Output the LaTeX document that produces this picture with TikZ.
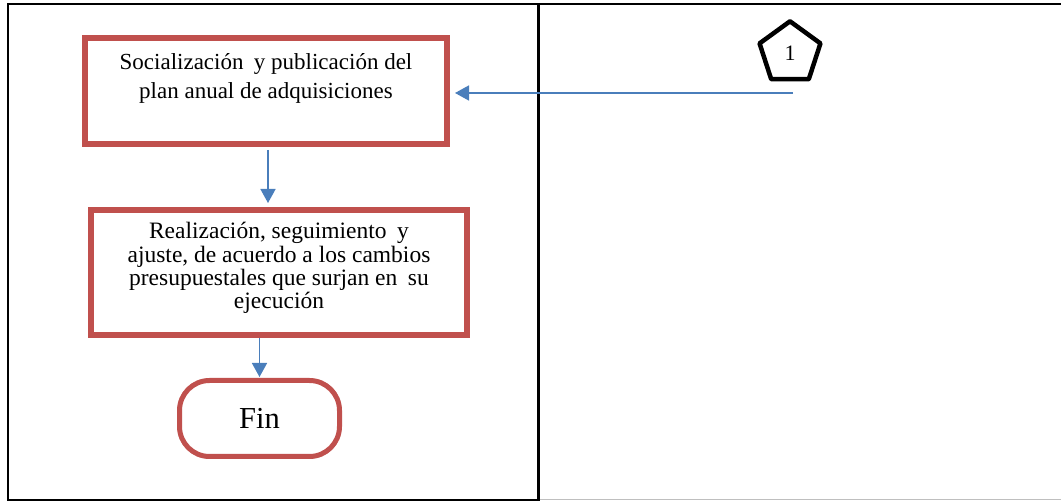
\documentclass[tikz,border=0pt]{standalone}
\usepackage{fontspec}
\setmainfont{Liberation Serif}
\usetikzlibrary{arrows.meta,shapes.geometric}
\definecolor{boxred}{RGB}{192,80,77}
\definecolor{arrblue}{RGB}{74,126,187}
\begin{document}
\begin{tikzpicture}[x=1pt,y=-1pt,
  stepbox/.style={draw=boxred,line width=6pt,inner sep=0pt,fill=white},
  endbox/.style={draw=boxred,line width=5pt,rounded corners=30pt,minimum width=160pt,minimum height=76pt,inner sep=0pt,font=\fontsize{30.5}{34}\selectfont},
  conn/.style={draw=black,line width=4.5pt,line join=round,regular polygon,regular polygon sides=5,minimum size=64pt,inner sep=0pt,font=\fontsize{22}{24}\selectfont},
  arr/.style={draw=arrblue,line width=1.6pt,-{Triangle[length=14pt,width=15pt]}},
  frame/.style={draw=black,line width=2pt}]
\useasboundingbox (0,0) rectangle (1061,502);
% frame
\draw[frame] (1061,4.5) -- (8,4.5) -- (8,500) -- (538,500);
\draw[black!25,line width=1pt] (538,500) -- (1061,500);
\draw[black,line width=3pt] (538,4.5) -- (538,501);
% nodes
\node[stepbox] (b1) at (266,91) {\parbox[c][106pt][t]{362pt}{\fontsize{23}{29}\selectfont\centering\rule{0pt}{32pt}Socialización\hspace{0.45em}y publicación del\\plan anual de adquisiciones}};
\node[stepbox] (b2) at (279,272.5) {\parbox[c][125pt][t]{376pt}{\fontsize{23.5}{23.3}\selectfont\centering\rule{0pt}{29pt}Realización, seguimiento\hspace{0.45em}y\\ajuste, de acuerdo a los cambios\\presupuestales que surjan en\hspace{0.45em}su\\ejecución}};
\node[endbox] (fin) at (259.5,418.5) {Fin};
\node[conn] (c1) at (790,53.3) {\raisebox{-5pt}{1}};
\coordinate (pa) at (793,93);
% connectors
\draw[arr,shorten >=5pt] (pa) -- (pa -| b1.east);
\draw[arr,shorten <=3pt,shorten >=4pt] ([xshift=2pt]b1.south) -- ([xshift=2pt]b1.south |- b2.north);
\draw[arr,shorten >=1pt] (b2.south -| fin.north) -- (fin.north);
\end{tikzpicture}
\end{document}
